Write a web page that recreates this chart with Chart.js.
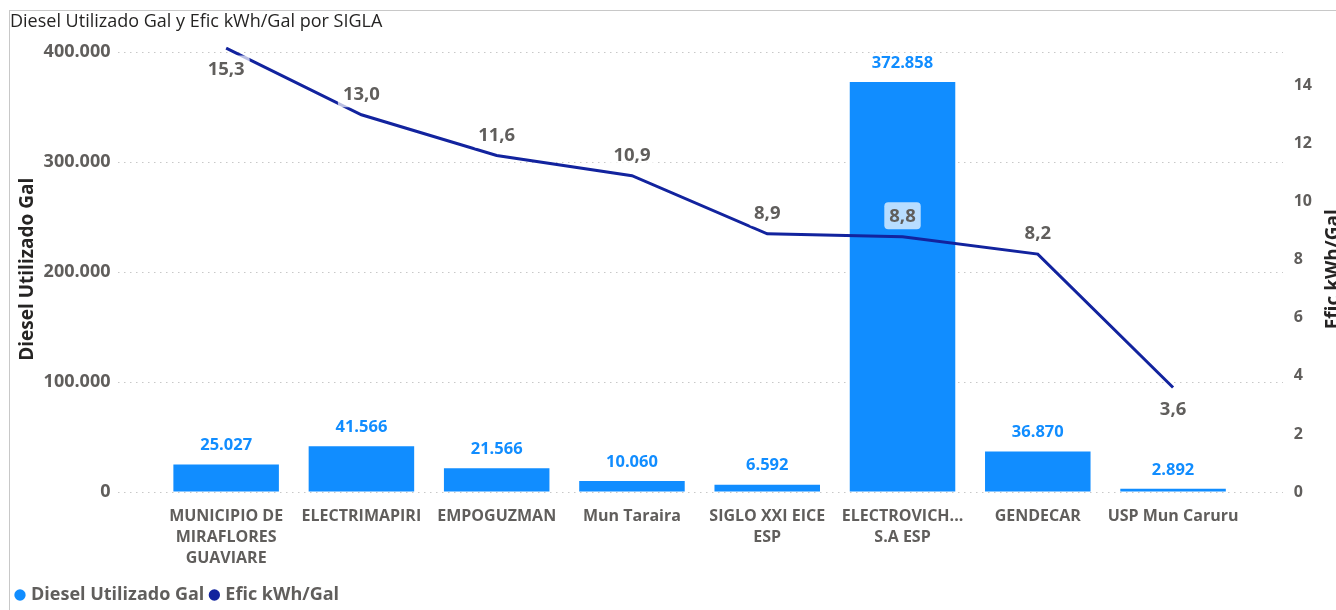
<!DOCTYPE html>
<html>
<head>
<meta charset="utf-8">
<title>Diesel Utilizado Gal y Efic kWh/Gal por SIGLA</title>
<script src="https://cdn.jsdelivr.net/npm/chart.js@4/dist/chart.umd.min.js"></script>
<style>
  html, body { margin: 0; padding: 0; background: #fff; overflow: hidden; }
  #frame {
    position: absolute; left: 9px; top: 10px; width: 1327px; height: 600px;
    border-left: 1px solid #c8c8c8; border-top: 1px solid #c8c8c8;
  }
  #wrap { position: absolute; left: 0; top: 0; width: 1336px; height: 610px; }
</style>
</head>
<body>
<div id="frame"></div>
<div id="wrap"><canvas id="chart" width="1336" height="610"></canvas></div>
<script>
// Data
const siglas = [
    ['MUNICIPIO DE', 'MIRAFLORES', 'GUAVIARE'],
    'ELECTRIMAPIRI',
    'EMPOGUZMAN',
    'Mun Taraira',
    ['SIGLO XXI EICE', 'ESP'],
    ['ELECTROVICH...', 'S.A ESP'],
    'GENDECAR',
    'USP Mun Caruru'
];
const dieselGal = [25027, 41566, 21566, 10060, 6592, 372858, 36870, 2892];
const eficKwhGal = [15.3, 13.0, 11.6, 10.9, 8.9, 8.8, 8.2, 3.6];
const leftTicks = [0, 100000, 200000, 300000, 400000];
const rightTicks = [0, 2, 4, 6, 8, 10, 12, 14];

const BAR_COLOR = '#118DFF';
const LINE_COLOR = '#12239E';
const LABEL_GRAY = '#605E5C';
const FONT = "'Open Sans', 'Noto Sans', sans-serif";

// 400.000 style thousands, 15,3 style decimals
function fmtMiles(v) {
    return String(Math.round(v)).replace(/\B(?=(\d{3})+(?!\d))/g, '.');
}
function fmtDecimal(v) {
    return v.toFixed(1).replace('.', ',');
}

// where each line label sits relative to its point
const lineLabelSide = ['below', 'above', 'above', 'above', 'above', 'above', 'above', 'below'];

// dotted gridlines, a bit wider than the plot area like the original
const dottedGrid = {
    id: 'dottedGrid',
    beforeDatasetsDraw(chart) {
        const ctx = chart.ctx;
        const y = chart.scales.y;
        ctx.save();
        ctx.strokeStyle = '#c8c8c8';
        ctx.lineWidth = 1;
        ctx.setLineDash([1.5, 4.5]);
        leftTicks.forEach(t => {
            const py = Math.round(y.getPixelForValue(t)) + 0.5;
            ctx.beginPath();
            ctx.moveTo(118, py);
            ctx.lineTo(1283, py);
            ctx.stroke();
        });
        ctx.restore();
    }
};

// data labels for bars and line
const valueLabels = {
    id: 'valueLabels',
    afterDatasetsDraw(chart) {
        const ctx = chart.ctx;
        ctx.save();
        ctx.textAlign = 'center';
        ctx.textBaseline = 'middle';

        // bar labels
        const barMeta = chart.getDatasetMeta(0);
        ctx.font = 'bold 16.5px ' + FONT;
        ctx.fillStyle = BAR_COLOR;
        barMeta.data.forEach((bar, i) => {
            ctx.fillText(fmtMiles(dieselGal[i]), bar.x, bar.y - 19);
        });

        // line labels with the translucent white box
        const lineMeta = chart.getDatasetMeta(1);
        ctx.font = 'bold 18.5px ' + FONT;
        lineMeta.data.forEach((pt, i) => {
            const txt = fmtDecimal(eficKwhGal[i]);
            const cy = lineLabelSide[i] === 'below' ? pt.y + 21 : pt.y - 21;
            const w = ctx.measureText(txt).width + 10;
            const h = 27;
            ctx.fillStyle = 'rgba(255,255,255,0.7)';
            ctx.beginPath();
            ctx.roundRect(pt.x - w / 2, cy - h / 2, w, h, 4);
            ctx.fill();
            ctx.fillStyle = LABEL_GRAY;
            ctx.fillText(txt, pt.x, cy + 1);
        });
        ctx.restore();
    }
};

// right axis title reads bottom-to-top and is cut by the edge
const rightTitle = {
    id: 'rightTitle',
    afterDraw(chart) {
        const ctx = chart.ctx;
        const area = chart.chartArea;
        ctx.save();
        ctx.translate(1324, (area.top + area.bottom) / 2);
        ctx.rotate(-Math.PI / 2);
        ctx.font = 'bold 19px ' + FONT;
        ctx.fillStyle = '#252423';
        ctx.textAlign = 'center';
        ctx.textBaseline = 'top';
        ctx.fillText('Efic kWh/Gal', 0, 0);
        ctx.restore();
    }
};

// invisible tick marks give the gap between labels and plot
const hiddenTicks = len => ({
    display: true,
    drawOnChartArea: false,
    drawTicks: true,
    tickLength: len,
    color: 'rgba(0,0,0,0)'
});

const ctx = document.getElementById('chart').getContext('2d');
new Chart(ctx, {
    data: {
        labels: siglas,
        datasets: [
            {
                type: 'bar',
                label: 'Diesel Utilizado Gal',
                data: dieselGal,
                backgroundColor: BAR_COLOR,
                yAxisID: 'y',
                categoryPercentage: 1,
                barPercentage: 0.78,
                order: 2
            },
            {
                type: 'line',
                label: 'Efic kWh/Gal',
                data: eficKwhGal,
                borderColor: LINE_COLOR,
                backgroundColor: LINE_COLOR,
                borderWidth: 3,
                pointRadius: 0,
                tension: 0,
                yAxisID: 'y1',
                order: 1
            }
        ]
    },
    options: {
        responsive: false,
        animation: false,
        layout: { padding: { left: 10, right: 0, top: 0, bottom: -4 } },
        plugins: {
            title: {
                display: true,
                text: 'Diesel Utilizado Gal y Efic kWh/Gal por SIGLA',
                align: 'start',
                color: '#252423',
                font: { family: FONT, size: 18, weight: 'normal' },
                padding: { top: 11, bottom: 14 }
            },
            legend: {
                position: 'bottom',
                align: 'start',
                labels: {
                    usePointStyle: true,
                    boxWidth: 4,
                    boxHeight: 8,
                    padding: 8,
                    color: LABEL_GRAY,
                    font: { family: FONT, size: 18, weight: 'bold' },
                    generateLabels(chart) {
                        return chart.data.datasets.map((ds, i) => ({
                            text: ds.label,
                            fillStyle: i === 0 ? BAR_COLOR : LINE_COLOR,
                            strokeStyle: i === 0 ? BAR_COLOR : LINE_COLOR,
                            fontColor: LABEL_GRAY,
                            lineWidth: 0,
                            pointStyle: 'circle',
                            datasetIndex: i
                        }));
                    }
                }
            },
            tooltip: { enabled: false }
        },
        scales: {
            x: {
                offset: true,
                grid: { display: false },
                border: { display: false },
                ticks: {
                    color: LABEL_GRAY,
                    font: { family: FONT, size: 16, weight: 'bold', lineHeight: 1.31 },
                    maxRotation: 0,
                    autoSkip: false,
                    padding: 6
                },
                afterFit(scale) { scale.height = 86; }
            },
            y: {
                position: 'left',
                min: 0,
                max: 405000,
                grid: hiddenTicks(45),
                border: { display: false },
                ticks: {
                    stepSize: 100000,
                    color: LABEL_GRAY,
                    font: { family: FONT, size: 18, weight: 'bold' },
                    padding: 3,
                    callback: v => fmtMiles(v)
                },
                afterBuildTicks(scale) {
                    scale.ticks = leftTicks.map(v => ({ value: v }));
                },
                title: {
                    display: true,
                    text: 'Diesel Utilizado Gal',
                    color: '#252423',
                    font: { family: FONT, size: 19, weight: 'bold' },
                    padding: { top: 6, bottom: 0 }
                },
                afterFit(scale) { scale.width = 148.5; }
            },
            y1: {
                position: 'right',
                min: 0,
                max: 15.35,
                grid: hiddenTicks(50),
                border: { display: false },
                ticks: {
                    stepSize: 2,
                    color: LABEL_GRAY,
                    font: { family: FONT, size: 16, weight: 'bold' },
                    padding: 3
                },
                afterBuildTicks(scale) {
                    scale.ticks = rightTicks.map(v => ({ value: v }));
                },
                afterFit(scale) { scale.width = 95.3; }
            }
        }
    },
    plugins: [dottedGrid, valueLabels, rightTitle]
});
</script>
</body>
</html>
